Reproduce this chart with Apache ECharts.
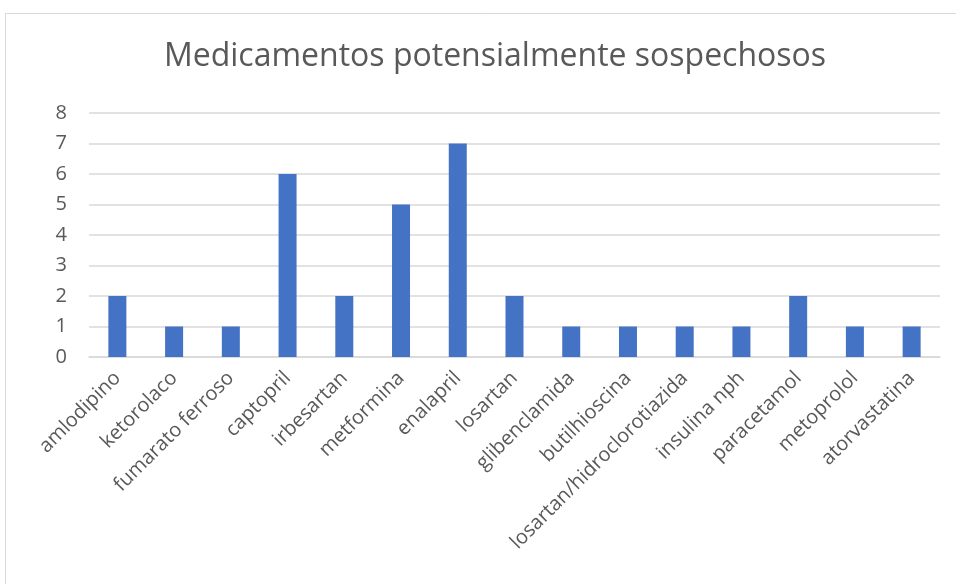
<!DOCTYPE html>
<html>
<head>
<meta charset="utf-8">
<script src="https://cdn.jsdelivr.net/npm/echarts@6/dist/echarts.min.js"></script>
<style>
html,body{margin:0;padding:0;background:#fff;}
#chart{width:956px;height:584px;}
</style>
</head>
<body>
<div id="chart"></div>
<script>
const titleText = 'Medicamentos potensialmente sospechosos';
const categories = ['amlodipino','ketorolaco','fumarato ferroso','captopril','irbesartan','metformina','enalapril','losartan','glibenclamida','butilhioscina','losartan/hidroclorotiazida','insulina nph','paracetamol','metoprolol','atorvastatina'];
const values = [2,1,1,6,2,5,7,2,1,1,1,1,2,1,1];
const yMin = 0, yMax = 8, yStep = 1;

const chart = echarts.init(document.getElementById('chart'), null, {renderer:'canvas'});
chart.setOption({
  animation:false,
  backgroundColor:'#ffffff',
  textStyle:{fontFamily:'Open Sans'},
  graphic:[{type:'rect', shape:{x:5.5,y:13.5,width:960,height:600}, style:{fill:null, stroke:'#d9d9d9', lineWidth:1}, silent:true, z:-1}],
  title:{text:titleText, left:490, top:36, textAlign:'center',
    textStyle:{fontFamily:'Open Sans', fontSize:32, fontWeight:'normal', color:'#595959'}},
  grid:{left:89, right:16, top:113, bottom:227, containLabel:false},
  xAxis:{type:'category', data:categories,
    axisLine:{lineStyle:{color:'#d9d9d9', width:1.5}},
    axisTick:{show:false},
    axisLabel:{interval:0, rotate:45, margin:18, color:'#595959', fontSize:20, fontFamily:'Open Sans'}},
  yAxis:{type:'value', min:yMin, max:yMax, interval:yStep,
    axisLine:{show:false}, axisTick:{show:false},
    splitLine:{lineStyle:{color:'#d9d9d9', width:1.5}},
    axisLabel:{color:'#595959', fontSize:20, margin:22, fontFamily:'Open Sans'}},
  series:[{type:'bar', data:values, barWidth:18, itemStyle:{color:'#4472C4'}}]
});
</script>
</body>
</html>
